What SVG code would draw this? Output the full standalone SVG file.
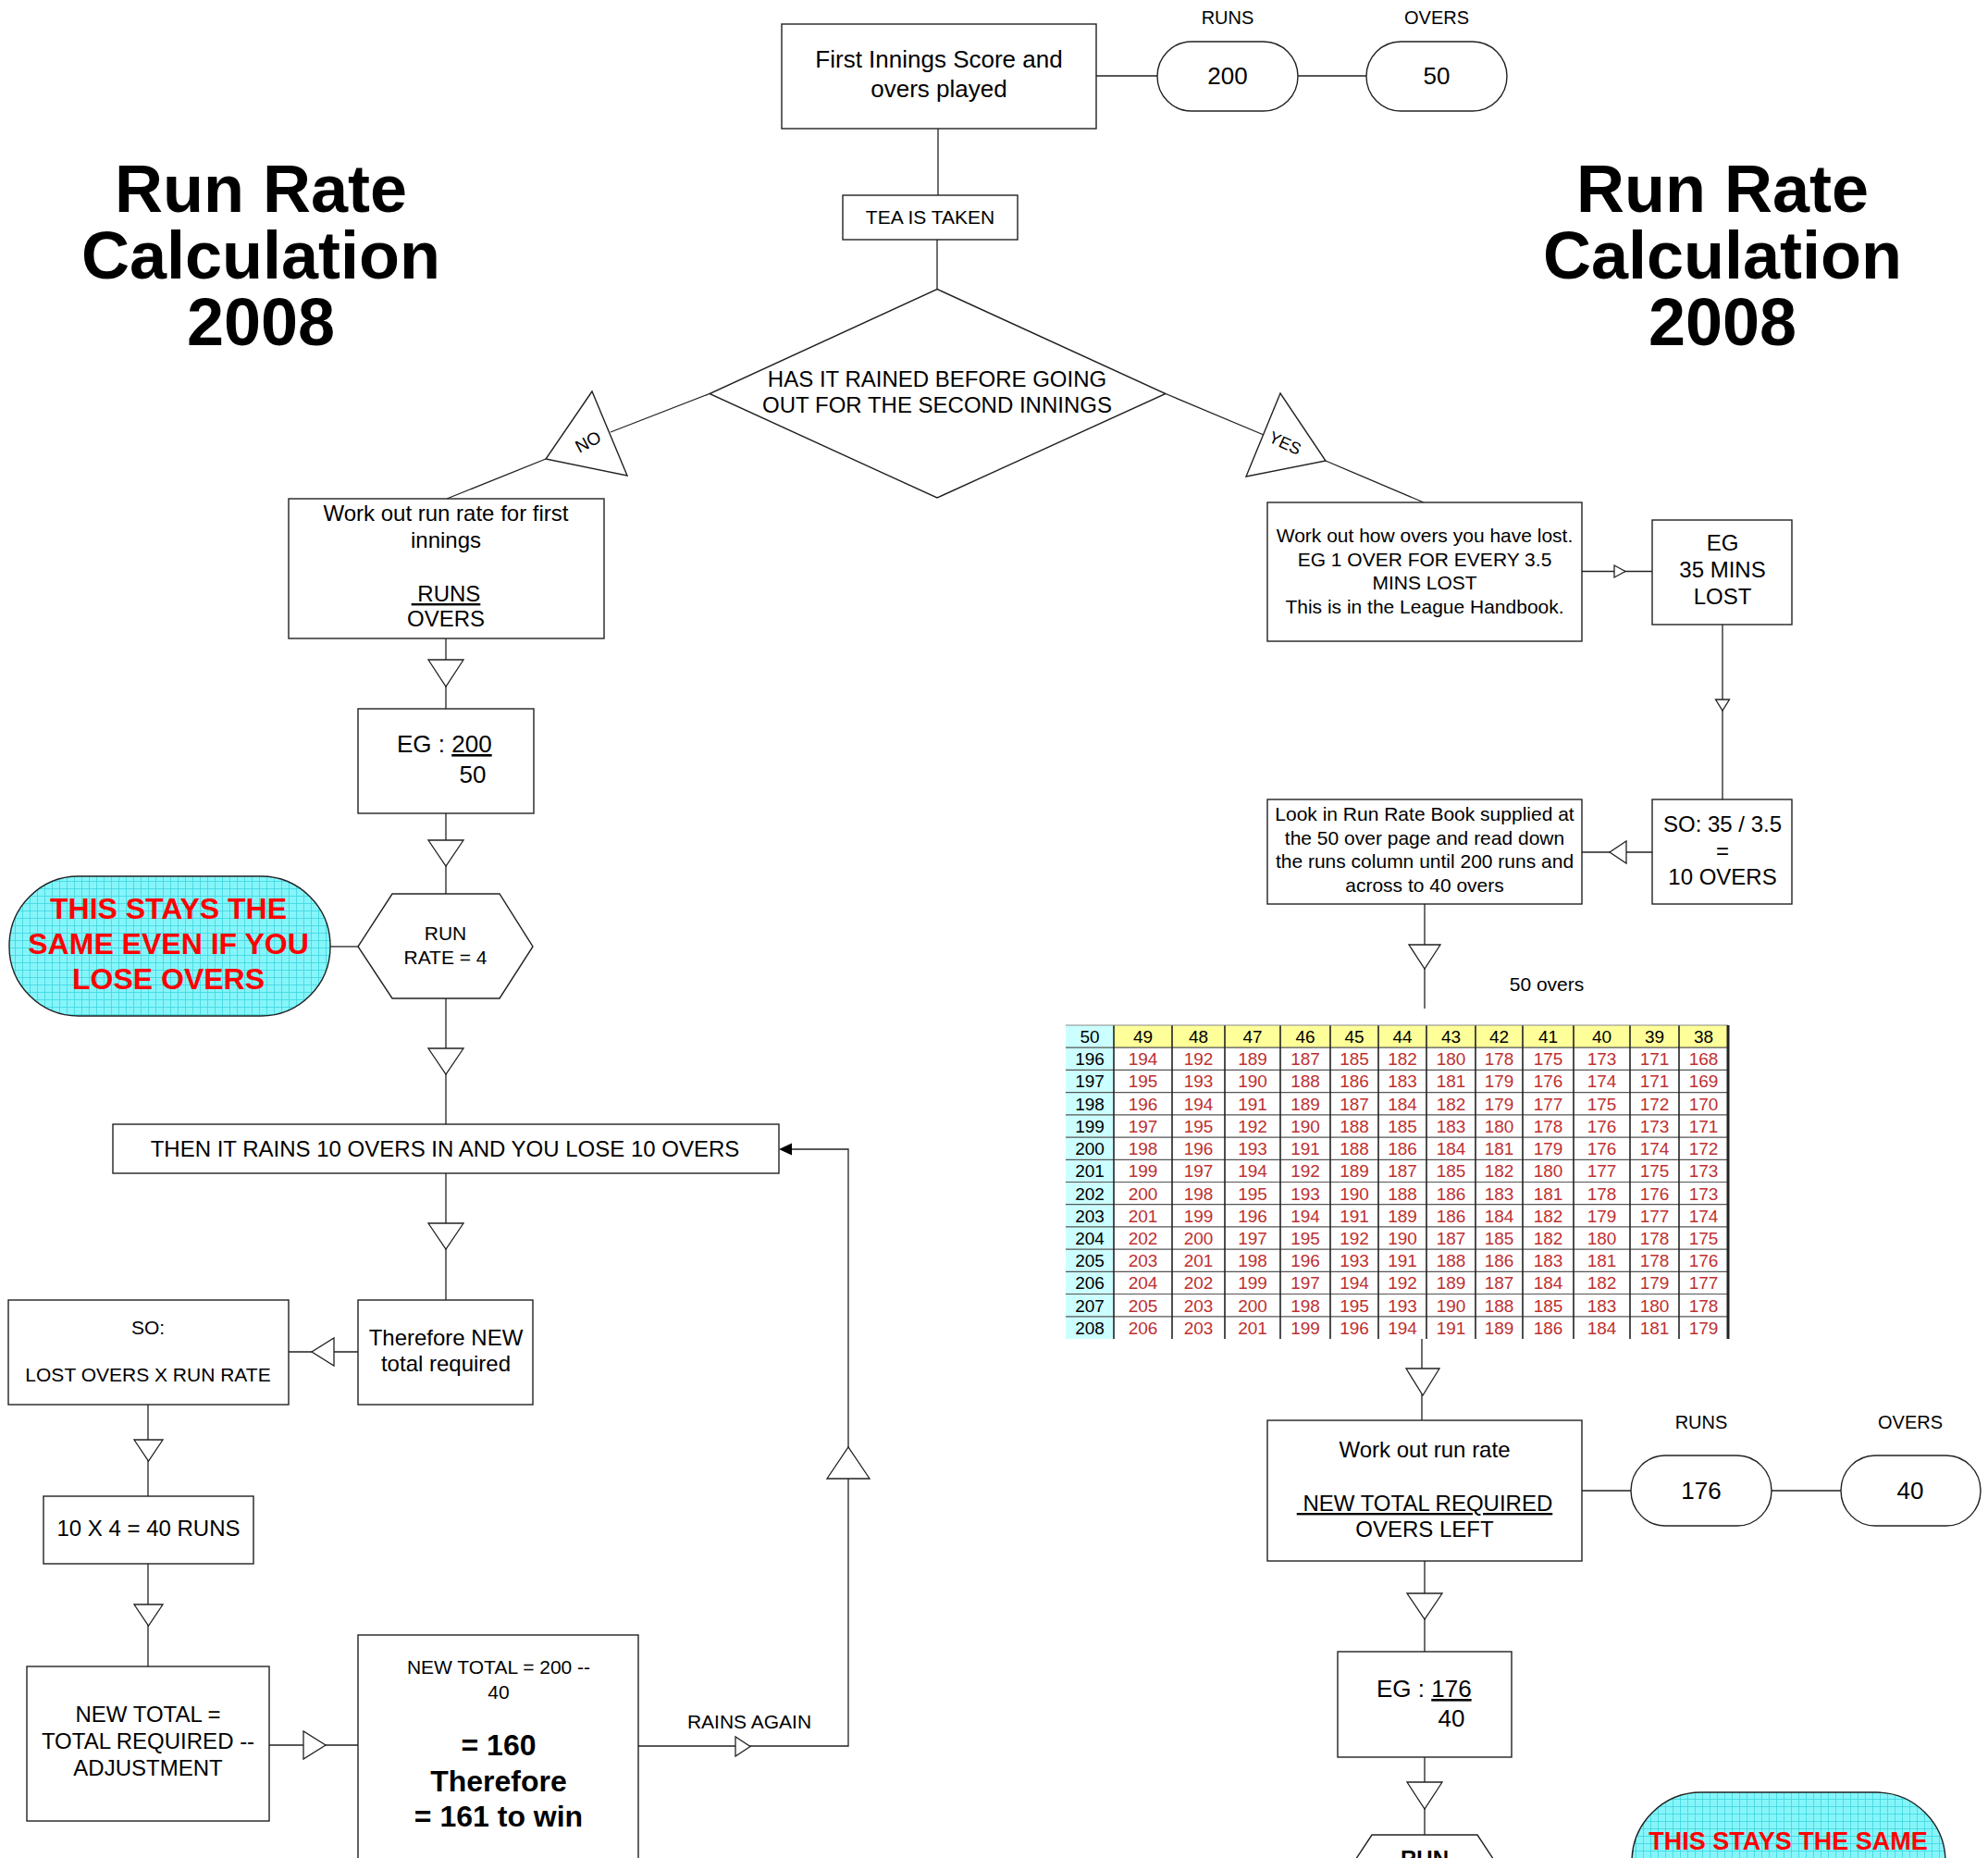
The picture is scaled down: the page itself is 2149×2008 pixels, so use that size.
<svg xmlns="http://www.w3.org/2000/svg" width="2149" height="2008" viewBox="0 0 2149 2008">
<style>
.box{fill:#fff;stroke:#222;stroke-width:1.4}
.ln{fill:none;stroke:#222;stroke-width:1.3}
.tri{fill:#fff;stroke:#222;stroke-width:1.3}
text{font-family:"Liberation Sans",Arial,sans-serif;fill:#000}
.c{text-anchor:middle}
.ttl{font-size:72px;font-weight:bold;text-anchor:middle}
.f20{font-size:20px}
.f21{font-size:21px}
.f24{font-size:24px}
.f26{font-size:26px}
.red{fill:#FF0000;font-weight:bold;text-anchor:middle}
.cyan{fill:url(#cyanGrid);stroke:#222;stroke-width:1.4}
.tbl text{font-size:19px;text-anchor:middle;fill:#BE3030}
.tbl .k{fill:#000}
</style>
<defs>
<pattern id="cyanGrid" width="8" height="8" patternUnits="userSpaceOnUse">
<rect width="8" height="8" fill="#86F5FA"/>
<path d="M0 0.5H8M0.5 0V8" stroke="#3CD6E0" stroke-width="0.8"/>
</pattern>
</defs>
<rect width="2149" height="2008" fill="#fff"/>

<g id="title-left"><text class="ttl" x="282" y="229">Run Rate</text><text class="ttl" x="282" y="301">Calculation</text><text class="ttl" x="282" y="373">2008</text></g>
<g id="title-right"><text class="ttl" x="1862" y="229">Run Rate</text><text class="ttl" x="1862" y="301">Calculation</text><text class="ttl" x="1862" y="373">2008</text></g>

<g id="connectors">
<path class="ln" d="M1014 139V211M1013 259V312.5"/>
<path class="ln" d="M1185 82H1251M1403 82H1477"/>
<path class="ln" d="M767 425.5L660 467M590 496L483 539"/>
<path class="ln" d="M1260 425.5L1366 470M1433 498L1539 543"/>
<path class="ln" d="M482 690V766M482 879V966M482 1079V1215M482 1268V1405"/>
<path class="ln" d="M357 1023H387"/>
<path class="ln" d="M387 1461H312"/>
<path class="ln" d="M160 1518V1617M160 1690V1801"/>
<path class="ln" d="M291 1886H387"/>
<path class="ln" d="M690 1887H917V1242H856"/>
<polygon points="842,1242 856,1235.5 856,1248.5" fill="#000"/>
<polygon class="tri" points="463,713 501,713 482,742"/>
<polygon class="tri" points="463,908 501,908 482,936"/>
<polygon class="tri" points="463,1133 501,1133 482,1161"/>
<polygon class="tri" points="463,1322 501,1322 482,1350"/>
<polygon class="tri" points="145,1556 176,1556 160.5,1579"/>
<polygon class="tri" points="145,1734 176,1734 160.5,1757"/>
<polygon class="tri" points="361,1446 361,1476 337,1461"/>
<polygon class="tri" points="328,1871 328,1901 352,1886"/>
<polygon class="tri" points="795,1877 795,1898 811,1887.5"/>
<polygon class="tri" points="894,1598 940,1598 917,1564"/>
<path class="ln" d="M1710 617.5H1786M1862 675V864M1786 921H1710M1540 977V1090M1537 1447V1535"/>
<path class="ln" d="M1710 1611H1763M1915 1611H1990M1540 1687V1785M1540 1899V1983"/>
<polygon class="tri" points="1745,611 1745,624 1757,617.5"/>
<polygon class="tri" points="1854.5,756 1869.5,756 1862,768"/>
<polygon class="tri" points="1758,909 1758,933 1740,921"/>
<polygon class="tri" points="1523,1021 1557,1021 1540,1047"/>
<polygon class="tri" points="1520,1479 1556,1479 1538,1508"/>
<polygon class="tri" points="1521,1722 1559,1722 1540,1750"/>
<polygon class="tri" points="1521,1926 1559,1926 1540,1955"/>
</g>

<g id="n-first-innings"><rect class="box" x="845" y="26" width="340" height="113"/><text class="c" x="1015" y="73" style="font-size:26px">First Innings Score and</text><text class="c" x="1015" y="105" style="font-size:26px">overs played</text></g>
<g id="n-runs-200"><text class="c f20" x="1327" y="26">RUNS</text><rect class="box" x="1251" y="45" width="152" height="75" rx="37" ry="37.5"/><text class="c f26" x="1327" y="91">200</text></g>
<g id="n-overs-50"><text class="c f20" x="1553" y="26">OVERS</text><rect class="box" x="1477" y="45" width="152" height="75" rx="37" ry="37.5"/><text class="c f26" x="1553" y="91">50</text></g>
<g id="n-tea"><rect class="box" x="911" y="211" width="189" height="48"/><text class="c f21" x="1005.5" y="242">TEA IS TAKEN</text></g>
<g id="n-rained"><polygon class="box" points="1013,312.5 1260,425.5 1013,538 767,425.5"/><text class="c f24" x="1013" y="418">HAS IT RAINED BEFORE GOING</text><text class="c f24" x="1013" y="446">OUT FOR THE SECOND INNINGS</text></g>
<g id="n-no"><polygon class="box" points="640,423 590,496 678,514"/><text class="c" style="font-size:19px" transform="translate(636,478) rotate(-28)" y="6">NO</text></g>
<g id="n-yes"><polygon class="box" points="1384,425 1347,515 1433,498"/><text class="c" style="font-size:18px" transform="translate(1389,479) rotate(25)" y="6">YES</text></g>

<g id="n-runrate-first"><rect class="box" x="312" y="539" width="341" height="151"/><text class="c f24" x="482" y="563">Work out run rate for first</text><text class="c f24" x="482" y="592">innings</text><text class="c f24" x="482" y="650"><tspan text-decoration="underline">&#160;RUNS</tspan></text><text class="c f24" x="482" y="677">OVERS</text></g>
<g id="n-eg-200"><rect class="box" x="387" y="766" width="190" height="113"/><text class="f26" x="429" y="813">EG : <tspan text-decoration="underline">200</tspan></text><text class="c f26" x="511" y="846">50</text></g>
<g id="n-runrate-4"><polygon class="box" points="387,1023 424,966 540,966 576,1023 540,1079 424,1079"/><text class="c f21" x="481.5" y="1016">RUN</text><text class="c f21" x="481.5" y="1042">RATE = 4</text></g>
<g id="n-stays-same-left"><rect class="cyan" x="10" y="947" width="347" height="151" rx="75" ry="75"/><text class="red" style="font-size:32px" x="182" y="993">THIS STAYS THE</text><text class="red" style="font-size:32px" x="182" y="1031">SAME EVEN IF YOU</text><text class="red" style="font-size:32px" x="182" y="1069">LOSE OVERS</text></g>
<g id="n-rains-10"><rect class="box" x="122" y="1215" width="720" height="53"/><text class="c f24" x="481" y="1250">THEN IT RAINS 10 OVERS IN AND YOU LOSE 10 OVERS</text></g>
<g id="n-new-total-req"><rect class="box" x="387" y="1405" width="189" height="113"/><text class="c f24" x="482" y="1454">Therefore NEW</text><text class="c f24" x="482" y="1482">total required</text></g>
<g id="n-so-lost"><rect class="box" x="9" y="1405" width="303" height="113"/><text class="c f21" x="160" y="1442">SO:</text><text class="c f21" x="160" y="1493">LOST OVERS X RUN RATE</text></g>
<g id="n-40-runs"><rect class="box" x="47" y="1617" width="227" height="73"/><text class="c f24" x="160.5" y="1660">10 X 4 = 40 RUNS</text></g>
<g id="n-new-total-formula"><rect class="box" x="29" y="1801" width="262" height="167"/><text class="c f24" x="160" y="1861">NEW TOTAL =</text><text class="c f24" x="160" y="1890">TOTAL REQUIRED --</text><text class="c f24" x="160" y="1919">ADJUSTMENT</text></g>
<g id="n-new-total-160"><rect class="box" x="387" y="1767" width="303" height="260"/><text class="c f21" x="539" y="1809">NEW TOTAL = 200 --</text><text class="c f21" x="539" y="1836">40</text><text class="c" style="font-size:32px;font-weight:bold" x="539" y="1897">= 160</text><text class="c" style="font-size:32px;font-weight:bold" x="539" y="1936">Therefore</text><text class="c" style="font-size:32px;font-weight:bold" x="539" y="1974">= 161 to win</text></g>
<g id="label-rains-again"><text class="c f21" x="810" y="1868">RAINS AGAIN</text></g>

<g id="n-overs-lost"><rect class="box" x="1370" y="543" width="340" height="150"/><text class="c f21" x="1540" y="586">Work out how overs you have lost.</text><text class="c f21" x="1540" y="612">EG 1 OVER FOR EVERY 3.5</text><text class="c f21" x="1540" y="637">MINS LOST</text><text class="c f21" x="1540" y="663">This is in the League Handbook.</text></g>
<g id="n-eg-35"><rect class="box" x="1786" y="562" width="151" height="113"/><text class="c f24" x="1862" y="595">EG</text><text class="c f24" x="1862" y="624">35 MINS</text><text class="c f24" x="1862" y="653">LOST</text></g>
<g id="n-so-10-overs"><rect class="box" x="1786" y="864" width="151" height="113"/><text class="c f24" x="1862" y="899">SO: 35 / 3.5</text><text class="c f24" x="1862" y="928">=</text><text class="c f24" x="1862" y="956">10 OVERS</text></g>
<g id="n-look-book"><rect class="box" x="1370" y="864" width="340" height="113"/><text class="c f21" x="1540" y="887">Look in Run Rate Book supplied at</text><text class="c f21" x="1540" y="913">the 50 over page and read down</text><text class="c f21" x="1540" y="938">the runs column until 200 runs and</text><text class="c f21" x="1540" y="964">across to 40 overs</text></g>
<g id="label-50-overs"><text class="c f21" x="1672" y="1071">50 overs</text></g>

<g id="n-table" class="tbl">
<rect x="1152" y="1108" width="716" height="339" fill="#fff"/>
<rect x="1204" y="1108" width="664" height="24.2" fill="#FFFF99"/>
<rect x="1152" y="1108" width="52" height="339" fill="#CCFFFF"/>
<path d="M1152 1132.2H1868M1152 1156.4H1868M1152 1180.6H1868M1152 1204.8H1868M1152 1229.1H1868M1152 1253.3H1868M1152 1277.5H1868M1152 1301.7H1868M1152 1325.9H1868M1152 1350.1H1868M1152 1374.3H1868M1152 1398.5H1868M1152 1422.8H1868" stroke="#555" stroke-width="1.2"/>
<path d="M1204 1108V1447M1267 1108V1447M1324 1108V1447M1384 1108V1447M1438 1108V1447M1490 1108V1447M1542 1108V1447M1595 1108V1447M1646 1108V1447M1701 1108V1447M1762 1108V1447M1815 1108V1447" stroke="#222" stroke-width="1.6"/>
<path d="M1152 1108H1868" stroke="#888" stroke-width="1"/>
<path d="M1868 1108V1447" stroke="#222" stroke-width="3"/>
<text class="k" y="1127"><tspan x="1178">50</tspan><tspan x="1235.5">49</tspan><tspan x="1295.5">48</tspan><tspan x="1354">47</tspan><tspan x="1411">46</tspan><tspan x="1464">45</tspan><tspan x="1516">44</tspan><tspan x="1568.5">43</tspan><tspan x="1620.5">42</tspan><tspan x="1673.5">41</tspan><tspan x="1731.5">40</tspan><tspan x="1788.5">39</tspan><tspan x="1841.5">38</tspan></text>
<text y="1151.2"><tspan class="k" x="1178">196</tspan><tspan x="1235.5">194</tspan><tspan x="1295.5">192</tspan><tspan x="1354">189</tspan><tspan x="1411">187</tspan><tspan x="1464">185</tspan><tspan x="1516">182</tspan><tspan x="1568.5">180</tspan><tspan x="1620.5">178</tspan><tspan x="1673.5">175</tspan><tspan x="1731.5">173</tspan><tspan x="1788.5">171</tspan><tspan x="1841.5">168</tspan></text>
<text y="1175.4"><tspan class="k" x="1178">197</tspan><tspan x="1235.5">195</tspan><tspan x="1295.5">193</tspan><tspan x="1354">190</tspan><tspan x="1411">188</tspan><tspan x="1464">186</tspan><tspan x="1516">183</tspan><tspan x="1568.5">181</tspan><tspan x="1620.5">179</tspan><tspan x="1673.5">176</tspan><tspan x="1731.5">174</tspan><tspan x="1788.5">171</tspan><tspan x="1841.5">169</tspan></text>
<text y="1199.6"><tspan class="k" x="1178">198</tspan><tspan x="1235.5">196</tspan><tspan x="1295.5">194</tspan><tspan x="1354">191</tspan><tspan x="1411">189</tspan><tspan x="1464">187</tspan><tspan x="1516">184</tspan><tspan x="1568.5">182</tspan><tspan x="1620.5">179</tspan><tspan x="1673.5">177</tspan><tspan x="1731.5">175</tspan><tspan x="1788.5">172</tspan><tspan x="1841.5">170</tspan></text>
<text y="1223.8"><tspan class="k" x="1178">199</tspan><tspan x="1235.5">197</tspan><tspan x="1295.5">195</tspan><tspan x="1354">192</tspan><tspan x="1411">190</tspan><tspan x="1464">188</tspan><tspan x="1516">185</tspan><tspan x="1568.5">183</tspan><tspan x="1620.5">180</tspan><tspan x="1673.5">178</tspan><tspan x="1731.5">176</tspan><tspan x="1788.5">173</tspan><tspan x="1841.5">171</tspan></text>
<text y="1248.1"><tspan class="k" x="1178">200</tspan><tspan x="1235.5">198</tspan><tspan x="1295.5">196</tspan><tspan x="1354">193</tspan><tspan x="1411">191</tspan><tspan x="1464">188</tspan><tspan x="1516">186</tspan><tspan x="1568.5">184</tspan><tspan x="1620.5">181</tspan><tspan x="1673.5">179</tspan><tspan x="1731.5">176</tspan><tspan x="1788.5">174</tspan><tspan x="1841.5">172</tspan></text>
<text y="1272.3"><tspan class="k" x="1178">201</tspan><tspan x="1235.5">199</tspan><tspan x="1295.5">197</tspan><tspan x="1354">194</tspan><tspan x="1411">192</tspan><tspan x="1464">189</tspan><tspan x="1516">187</tspan><tspan x="1568.5">185</tspan><tspan x="1620.5">182</tspan><tspan x="1673.5">180</tspan><tspan x="1731.5">177</tspan><tspan x="1788.5">175</tspan><tspan x="1841.5">173</tspan></text>
<text y="1296.5"><tspan class="k" x="1178">202</tspan><tspan x="1235.5">200</tspan><tspan x="1295.5">198</tspan><tspan x="1354">195</tspan><tspan x="1411">193</tspan><tspan x="1464">190</tspan><tspan x="1516">188</tspan><tspan x="1568.5">186</tspan><tspan x="1620.5">183</tspan><tspan x="1673.5">181</tspan><tspan x="1731.5">178</tspan><tspan x="1788.5">176</tspan><tspan x="1841.5">173</tspan></text>
<text y="1320.7"><tspan class="k" x="1178">203</tspan><tspan x="1235.5">201</tspan><tspan x="1295.5">199</tspan><tspan x="1354">196</tspan><tspan x="1411">194</tspan><tspan x="1464">191</tspan><tspan x="1516">189</tspan><tspan x="1568.5">186</tspan><tspan x="1620.5">184</tspan><tspan x="1673.5">182</tspan><tspan x="1731.5">179</tspan><tspan x="1788.5">177</tspan><tspan x="1841.5">174</tspan></text>
<text y="1344.9"><tspan class="k" x="1178">204</tspan><tspan x="1235.5">202</tspan><tspan x="1295.5">200</tspan><tspan x="1354">197</tspan><tspan x="1411">195</tspan><tspan x="1464">192</tspan><tspan x="1516">190</tspan><tspan x="1568.5">187</tspan><tspan x="1620.5">185</tspan><tspan x="1673.5">182</tspan><tspan x="1731.5">180</tspan><tspan x="1788.5">178</tspan><tspan x="1841.5">175</tspan></text>
<text y="1369.1"><tspan class="k" x="1178">205</tspan><tspan x="1235.5">203</tspan><tspan x="1295.5">201</tspan><tspan x="1354">198</tspan><tspan x="1411">196</tspan><tspan x="1464">193</tspan><tspan x="1516">191</tspan><tspan x="1568.5">188</tspan><tspan x="1620.5">186</tspan><tspan x="1673.5">183</tspan><tspan x="1731.5">181</tspan><tspan x="1788.5">178</tspan><tspan x="1841.5">176</tspan></text>
<text y="1393.3"><tspan class="k" x="1178">206</tspan><tspan x="1235.5">204</tspan><tspan x="1295.5">202</tspan><tspan x="1354">199</tspan><tspan x="1411">197</tspan><tspan x="1464">194</tspan><tspan x="1516">192</tspan><tspan x="1568.5">189</tspan><tspan x="1620.5">187</tspan><tspan x="1673.5">184</tspan><tspan x="1731.5">182</tspan><tspan x="1788.5">179</tspan><tspan x="1841.5">177</tspan></text>
<text y="1417.5"><tspan class="k" x="1178">207</tspan><tspan x="1235.5">205</tspan><tspan x="1295.5">203</tspan><tspan x="1354">200</tspan><tspan x="1411">198</tspan><tspan x="1464">195</tspan><tspan x="1516">193</tspan><tspan x="1568.5">190</tspan><tspan x="1620.5">188</tspan><tspan x="1673.5">185</tspan><tspan x="1731.5">183</tspan><tspan x="1788.5">180</tspan><tspan x="1841.5">178</tspan></text>
<text y="1441.7"><tspan class="k" x="1178">208</tspan><tspan x="1235.5">206</tspan><tspan x="1295.5">203</tspan><tspan x="1354">201</tspan><tspan x="1411">199</tspan><tspan x="1464">196</tspan><tspan x="1516">194</tspan><tspan x="1568.5">191</tspan><tspan x="1620.5">189</tspan><tspan x="1673.5">186</tspan><tspan x="1731.5">184</tspan><tspan x="1788.5">181</tspan><tspan x="1841.5">179</tspan></text>
</g>

<g id="n-rr-new"><rect class="box" x="1370" y="1535" width="340" height="152"/><text class="c f24" x="1540" y="1575">Work out run rate</text><text class="c f24" x="1540" y="1633"><tspan text-decoration="underline">&#160;NEW TOTAL REQUIRED</tspan></text><text class="c f24" x="1540" y="1661">OVERS LEFT</text></g>
<g id="n-runs-176"><text class="c f20" x="1839" y="1544">RUNS</text><rect class="box" x="1763" y="1573" width="152" height="76" rx="37" ry="38"/><text class="c f26" x="1839" y="1620">176</text></g>
<g id="n-overs-40"><text class="c f20" x="2065" y="1544">OVERS</text><rect class="box" x="1990" y="1573" width="151" height="76" rx="37" ry="38"/><text class="c f26" x="2065" y="1620">40</text></g>
<g id="n-eg-176"><rect class="box" x="1446" y="1785" width="188" height="114"/><text class="f26" x="1488" y="1834">EG : <tspan text-decoration="underline">176</tspan></text><text class="c f26" x="1569" y="1866">40</text></g>
<g id="n-runrate-right"><polygon class="box" points="1446,2039 1483,1983 1597,1983 1634,2039 1597,2096 1483,2096"/><text class="c" style="font-size:24px;font-weight:bold" x="1540" y="2017">RUN</text></g>
<g id="n-stays-same-right"><rect class="cyan" x="1764" y="1937" width="339" height="151" rx="75" ry="75"/><text class="red" style="font-size:27px" x="1933" y="1999">THIS STAYS THE SAME</text></g>
</svg>
